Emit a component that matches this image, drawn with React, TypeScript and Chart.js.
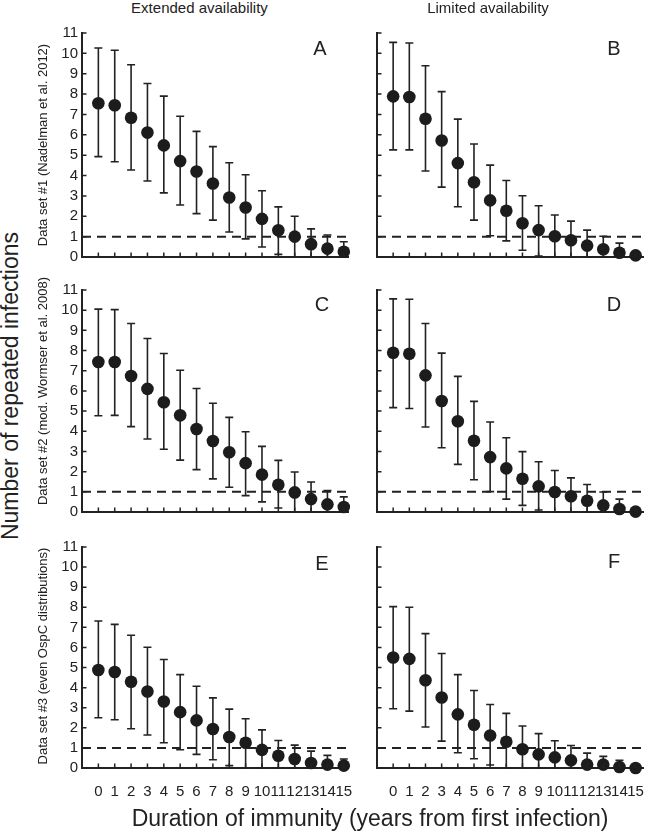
import React, { useEffect, useRef } from "react";
import { Chart, registerables } from "chart.js";
Chart.register(...registerables);

const FONT = "'Liberation Sans', Arial, Helvetica, sans-serif";
Chart.defaults.font.family = FONT;
Chart.defaults.color = "#222";

// ---- data ----
const years = [0, 1, 2, 3, 4, 5, 6, 7, 8, 9, 10, 11, 12, 13, 14, 15];
const yTicks = [0, 1, 2, 3, 4, 5, 6, 7, 8, 9, 10, 11];
const threshold = 1;

const meanA = [7.55, 7.45, 6.84, 6.11, 5.48, 4.71, 4.2, 3.61, 2.92, 2.43, 1.87, 1.31, 1.0, 0.63, 0.41, 0.26];
const hiA = [10.26, 10.15, 9.44, 8.52, 7.9, 6.91, 6.17, 5.42, 4.63, 4.04, 3.25, 2.46, 2.0, 1.38, 1.08, 0.75];
const loA = [4.93, 4.68, 4.27, 3.73, 3.15, 2.55, 2.13, 1.81, 1.23, 0.89, 0.49, 0.13, 0, 0, 0, 0];

const meanB = [7.89, 7.86, 6.79, 5.72, 4.61, 3.67, 2.78, 2.27, 1.66, 1.32, 1.02, 0.82, 0.56, 0.38, 0.21, 0.08];
const hiB = [10.54, 10.51, 9.39, 8.12, 6.77, 5.55, 4.51, 3.76, 3.01, 2.52, 2.06, 1.76, 1.32, 1.02, 0.68, 0.1];
const loB = [5.26, 5.26, 4.22, 3.43, 2.47, 1.81, 1.04, 0.79, 0.33, 0.05, 0, 0, 0, 0, 0, 0];

const meanC = [7.43, 7.43, 6.74, 6.1, 5.44, 4.79, 4.11, 3.52, 2.96, 2.42, 1.85, 1.35, 0.97, 0.64, 0.38, 0.25];
const hiC = [10.05, 10.03, 9.34, 8.6, 7.85, 7.02, 6.12, 5.39, 4.69, 3.98, 3.25, 2.56, 1.98, 1.49, 1.06, 0.75];
const loC = [4.77, 4.79, 4.23, 3.62, 3.11, 2.57, 2.1, 1.64, 1.23, 0.81, 0.5, 0.2, 0, 0, 0, 0];

const meanD = [7.89, 7.84, 6.77, 5.5, 4.5, 3.53, 2.72, 2.16, 1.65, 1.27, 0.99, 0.78, 0.56, 0.33, 0.15, 0.02];
const hiD = [10.56, 10.54, 9.34, 7.87, 6.72, 5.48, 4.46, 3.68, 2.99, 2.49, 2.06, 1.69, 1.36, 0.99, 0.64, 0.05];
const loD = [5.17, 5.13, 4.21, 3.18, 2.36, 1.6, 1.01, 0.64, 0.33, 0.1, 0, 0, 0, 0, 0, 0];

const meanE = [4.88, 4.78, 4.29, 3.81, 3.31, 2.78, 2.37, 1.94, 1.54, 1.26, 0.9, 0.61, 0.45, 0.25, 0.17, 0.12];
const hiE = [7.32, 7.15, 6.61, 6.01, 5.4, 4.65, 4.07, 3.49, 2.93, 2.45, 1.9, 1.37, 1.14, 0.84, 0.63, 0.45];
const loE = [2.5, 2.4, 1.95, 1.64, 1.26, 0.91, 0.68, 0.41, 0.12, 0, 0, 0, 0, 0, 0, 0];

const meanF = [5.5, 5.43, 4.37, 3.51, 2.67, 2.15, 1.62, 1.31, 0.93, 0.68, 0.53, 0.38, 0.17, 0.17, 0.05, 0.0];
const hiF = [8.03, 8.0, 6.69, 5.7, 4.65, 3.86, 3.16, 2.72, 2.09, 1.71, 1.36, 1.12, 0.74, 0.58, 0.38, 0.02];
const loF = [2.95, 2.83, 2.04, 1.34, 0.76, 0.46, 0.15, 0, 0, 0, 0, 0, 0, 0, 0, 0];

const INK = "#222";

type PanelProps = {
  mean: number[];
  lo: number[];
  hi: number[];
  left: number;
  top: number;
  width: number;
  plotH: number;
  yAxisW: number;
  padRight: number;
  xMax: number;
  showY: boolean;
  showX: boolean;
};

function Panel(p: PanelProps) {
  const ref = useRef<HTMLCanvasElement | null>(null);
  const padTop = 13;
  const xAxisH = p.showX ? 40 : 0;
  const padBottom = p.showX ? 0 : 10;
  const height = padTop + p.plotH + xAxisH + padBottom;

  useEffect(() => {
    if (!ref.current) return;
    const errBars = {
      id: "errBars",
      beforeDatasetsDraw(chart: any) {
        const { ctx, scales } = chart;
        const xs = scales.x;
        const ys = scales.y;
        ctx.save();
        ctx.strokeStyle = INK;
        ctx.lineWidth = 1.6;
        ctx.beginPath();
        years.forEach((yr, i) => {
          const px = xs.getPixelForValue(yr);
          const pl = ys.getPixelForValue(p.lo[i]);
          const ph = ys.getPixelForValue(p.hi[i]);
          ctx.moveTo(px, pl);
          ctx.lineTo(px, ph);
          ctx.moveTo(px - 4, ph);
          ctx.lineTo(px + 4, ph);
          ctx.moveTo(px - 4, pl);
          ctx.lineTo(px + 4, pl);
        });
        ctx.stroke();
        ctx.restore();
      },
    };
    const inTicks = {
      id: "inTicks",
      afterDraw(chart: any) {
        const { ctx, chartArea, scales } = chart;
        ctx.save();
        ctx.strokeStyle = INK;
        ctx.lineWidth = 1.5;
        ctx.beginPath();
        scales.x.ticks.forEach((t: any) => {
          const px = scales.x.getPixelForValue(t.value);
          ctx.moveTo(px, chartArea.bottom);
          ctx.lineTo(px, chartArea.bottom - 4.5);
        });
        scales.y.ticks.forEach((t: any) => {
          const py = scales.y.getPixelForValue(t.value);
          ctx.moveTo(chartArea.left, py);
          ctx.lineTo(chartArea.left + 4.5, py);
        });
        ctx.stroke();
        ctx.restore();
      },
    };
    const noPad = (s: any) => {
      s.paddingLeft = 0;
      s.paddingRight = 0;
      s.paddingTop = 0;
      s.paddingBottom = 0;
    };
    const chart = new Chart(ref.current, {
      type: "scatter",
      data: {
        datasets: [
          {
            data: years.map((x, i) => ({ x, y: p.mean[i] })),
            pointRadius: 6.3,
            pointBackgroundColor: "#1c1c1c",
            pointBorderWidth: 0,
            showLine: false,
            clip: false,
          } as any,
          {
            type: "line",
            data: [
              { x: -1, y: threshold },
              { x: p.xMax, y: threshold },
            ],
            borderColor: INK,
            borderWidth: 2,
            borderDash: [9, 6],
            pointRadius: 0,
            fill: false,
            clip: false,
          } as any,
        ],
      },
      options: {
        animation: false,
        responsive: false,
        maintainAspectRatio: false,
        events: [],
        layout: { padding: { top: padTop, right: p.padRight, bottom: padBottom, left: 0 } },
        plugins: { legend: { display: false }, tooltip: { enabled: false } },
        scales: {
          x: {
            type: "linear",
            min: -1,
            max: p.xMax,
            afterBuildTicks: (s: any) => {
              s.ticks = years.map((v) => ({ value: v }));
            },
            afterFit: (s: any) => {
              s.height = xAxisH;
              noPad(s);
            },
            grid: { display: false, drawTicks: false },
            border: { display: true, color: INK, width: 2 },
            ticks: {
              display: p.showX,
              padding: 15,
              autoSkip: false,
              maxRotation: 0,
              minRotation: 0,
              font: { size: 15 },
              color: "#222",
            },
          },
          y: {
            type: "linear",
            min: 0,
            max: 11,
            afterBuildTicks: (s: any) => {
              s.ticks = yTicks.map((v) => ({ value: v }));
            },
            afterFit: (s: any) => {
              s.width = p.yAxisW;
              noPad(s);
            },
            grid: { display: false, drawTicks: false },
            border: { display: true, color: INK, width: 2 },
            ticks: {
              display: p.showY,
              padding: 4,
              autoSkip: false,
              font: { size: 15 },
              color: "#222",
            },
          },
        },
      } as any,
      plugins: [errBars, inTicks],
    });
    return () => chart.destroy();
  }, []);

  return (
    <canvas
      ref={ref}
      width={p.width}
      height={height}
      style={{ position: "absolute", left: p.left, top: p.top - padTop, width: p.width, height }}
    />
  );
}

function T(props: { x: number; y: number; fs: number; text: string }) {
  const { x, y, fs, text } = props;
  return (
    <div
      style={{
        position: "absolute",
        left: x,
        top: y - 0.8465 * fs,
        transform: "translateX(-50%)",
        fontSize: fs,
        lineHeight: `${fs}px`,
        fontFamily: FONT,
        whiteSpace: "nowrap",
        color: "#222",
      }}
    >
      {text}
    </div>
  );
}

function R(props: { x: number; y: number; fs: number; text: string }) {
  const { x, y, fs, text } = props;
  return (
    <div
      style={{
        position: "absolute",
        left: x,
        top: y,
        transform: "translate(-50%, -50%) rotate(-90deg)",
        fontSize: fs,
        lineHeight: `${fs}px`,
        fontFamily: FONT,
        whiteSpace: "nowrap",
        color: "#222",
      }}
    >
      {text}
    </div>
  );
}

export default function App() {
  const L = { left: 40, width: 315, yAxisW: 42, padRight: 5, xMax: 15.3, showY: true };
  const Rc = { left: 340, width: 310, yAxisW: 37, padRight: 0, xMax: 15.5, showY: false };
  return (
    <div style={{ position: "absolute", left: 0, top: 0, width: 650, height: 836, background: "#fff", overflow: "hidden" }}>
      <Panel {...L} mean={meanA} lo={loA} hi={hiA} top={33} plotH={224} showX={false} />
      <Panel {...Rc} mean={meanB} lo={loB} hi={hiB} top={33} plotH={224} showX={false} />
      <Panel {...L} mean={meanC} lo={loC} hi={hiC} top={290} plotH={222} showX={false} />
      <Panel {...Rc} mean={meanD} lo={loD} hi={hiD} top={290} plotH={222} showX={false} />
      <Panel {...L} mean={meanE} lo={loE} hi={hiE} top={547} plotH={221} showX={true} />
      <Panel {...Rc} mean={meanF} lo={loF} hi={hiF} top={547} plotH={221} showX={true} />

      <T x={199.5} y={13} fs={15} text="Extended availability" />
      <T x={488} y={13} fs={15} text="Limited availability" />

      <T x={320} y={55} fs={20} text="A" />
      <T x={614} y={55} fs={20} text="B" />
      <T x={322} y={311} fs={20} text="C" />
      <T x={614} y={311} fs={20} text="D" />
      <T x={322} y={570} fs={20} text="E" />
      <T x={614} y={568} fs={20} text="F" />

      <R x={42} y={145} fs={13} text="Data set #1 (Nadelman et al. 2012)" />
      <R x={42} y={391} fs={13} text="Data set #2 (mod. Wormser et al. 2008)" />
      <R x={42} y={656} fs={13} text="Data set #3 (even OspC distributions)" />

      <R x={10} y={386} fs={23} text="Number of repeated infections" />
      <T x={370} y={826} fs={23} text="Duration of immunity (years from first infection)" />
    </div>
  );
}
